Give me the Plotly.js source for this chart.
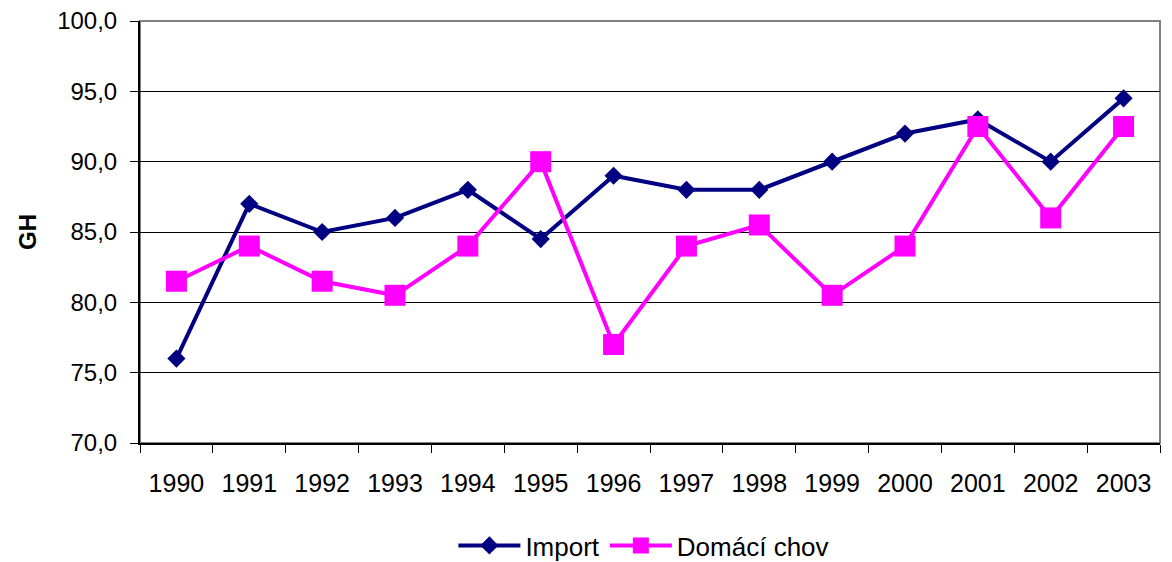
<!DOCTYPE html>
<html>
<head>
<meta charset="utf-8">
<script src="https://cdn.plot.ly/plotly-3.0.1.min.js"></script>
<style>html,body{margin:0;padding:0;background:#fff;}#chart{width:1172px;height:562px;}</style>
</head>
<body>
<div id="chart"></div>
<script>
const years = ['1990','1991','1992','1993','1994','1995','1996','1997','1998','1999','2000','2001','2002','2003'];
const importValues = [76.0, 87.0, 85.0, 86.0, 88.0, 84.5, 89.0, 88.0, 88.0, 90.0, 92.0, 93.0, 90.0, 94.5];
const domaciValues = [81.5, 84.0, 81.5, 80.5, 84.0, 90.0, 77.0, 84.0, 85.5, 80.5, 84.0, 92.5, 86.0, 92.5];
const yTicks = [70, 75, 80, 85, 90, 95, 100];

const font = 'Liberation Sans, Arial, sans-serif';

const traces = [
  {
    x: years, y: importValues, name: 'Import', type: 'scatter', mode: 'lines+markers',
    line: {color: '#000080', width: 4},
    marker: {symbol: 'diamond', size: 14, color: '#000080'}
  },
  {
    x: years, y: domaciValues, name: 'Domácí chov', type: 'scatter', mode: 'lines+markers',
    line: {color: '#FF00FF', width: 4},
    marker: {symbol: 'square', size: 21, color: '#FF00FF'}
  }
];

const layout = {
  width: 1172, height: 562,
  margin: {l: 140, r: 12, t: 21, b: 119, autoexpand: false},
  paper_bgcolor: '#fff', plot_bgcolor: '#fff',
  separators: ',.',
  font: {family: font, size: 24, color: '#000'},
  showlegend: true,
  legend: {
    orientation: 'h', x: 0.494, xanchor: 'center', y: -0.243, yanchor: 'middle',
    font: {family: font, size: 26, color: '#000'}, itemwidth: 62, tracegroupgap: 0
  },
  xaxis: {
    type: 'category', range: [-0.5, 13.5], tickson: 'boundaries', ticks: 'outside', ticklen: 8, tickcolor: '#000',
    showline: true, linecolor: '#000', linewidth: 2, showgrid: false,
    tickfont: {family: font, size: 25}, ticklabelstandoff: 17, automargin: false, fixedrange: true
  },
  yaxis: {
    range: [70, 100], tickvals: yTicks, tickformat: '.1f', ticks: 'outside', ticklen: 8, tickcolor: '#000',
    showline: true, linecolor: '#000', linewidth: 2, showgrid: true, gridcolor: '#000', gridwidth: 1,
    zeroline: false, tickfont: {family: font, size: 24}, ticklabelstandoff: 8,
    title: {text: '<b>GH</b>', font: {family: font, size: 24}, standoff: 14},
    automargin: false, fixedrange: true
  },
  shapes: [
    {type: 'rect', xref: 'paper', yref: 'paper', x0: 0, x1: 1, y0: 0, y1: 1,
     line: {color: '#808080', width: 2}, layer: 'below'}
  ]
};

Plotly.newPlot('chart', traces, layout, {displayModeBar: false, staticPlot: true});
</script>
</body>
</html>
